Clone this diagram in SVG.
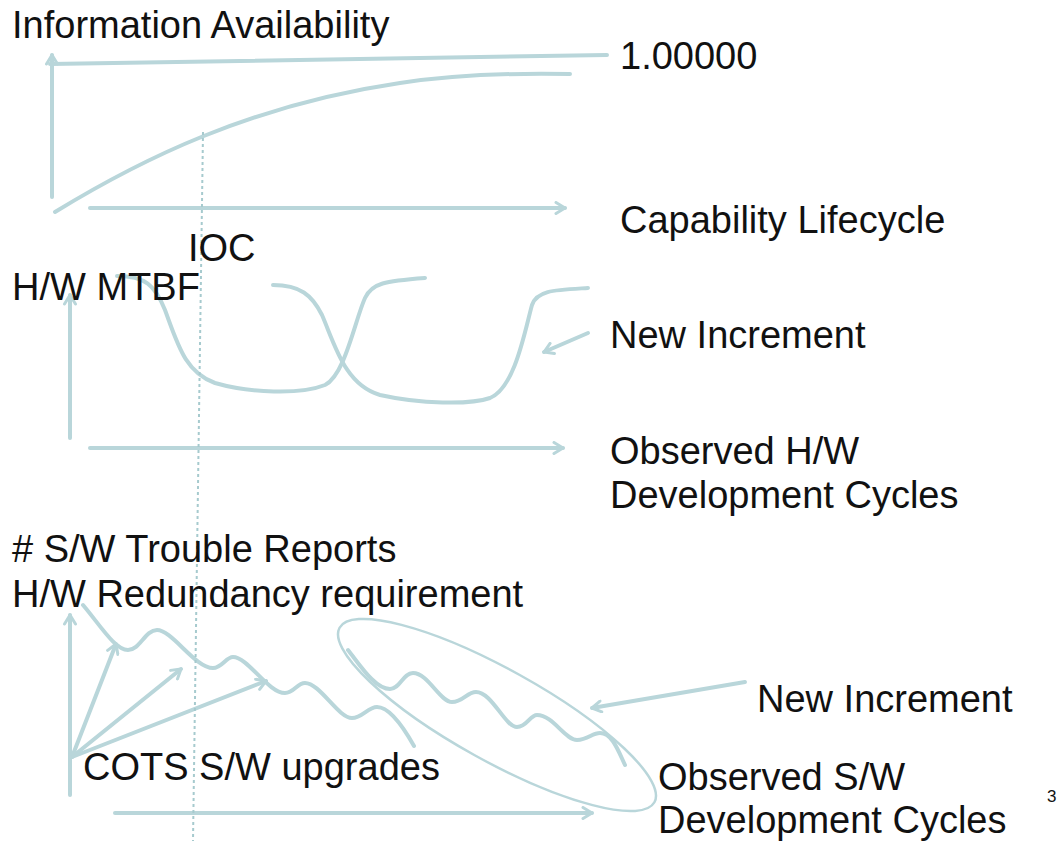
<svg xmlns="http://www.w3.org/2000/svg" width="1060" height="841" viewBox="0 0 1060 841">
<style>
.t{font-family:"Liberation Sans",Arial,sans-serif;font-size:38px;fill:#111}
.ln{fill:none;stroke:#b9d6da;stroke-width:4;stroke-linecap:round;stroke-linejoin:round}
.ax{fill:none;stroke:#b9d6da;stroke-width:4;stroke-linecap:round;marker-end:url(#v)}
.thin{fill:none;stroke:#b9d6da;stroke-width:2.5}
.dash{fill:none;stroke:#a6cace;stroke-width:2;stroke-dasharray:3 3}
</style>
<defs>
<marker id="v" viewBox="0 0 14 14" refX="11" refY="7" markerWidth="14" markerHeight="14" orient="auto" markerUnits="userSpaceOnUse">
<path d="M2,1.5 L11,7 L2,12.5" fill="none" stroke="#b9d6da" stroke-width="3" stroke-linecap="round" stroke-linejoin="round"/>
</marker>
</defs>
<rect width="1060" height="841" fill="#fff"/>

<g id="connectors">
<!-- top graph -->
<path class="ax" d="M52,197 L52,55"/>
<path class="ln" d="M50,64 L607,55"/>
<path class="ln" d="M55,212 C140,160 250,105 400,83 C460,74 520,73 570,74"/>
<path class="ax" d="M90,208 L565,208"/>
<!-- middle graph -->
<path class="ax" d="M70,438 L70,295"/>
<path class="ax" d="M90,448 L563,448"/>
<path class="ln" d="M117,276 C145,276 155,285 165,310 C178,345 185,372 215,383 C250,393 300,395 325,385 C345,375 355,320 365,298 C372,283 385,281 425,278"/>
<path class="ln" d="M273,285 C300,285 312,295 322,315 C335,345 345,385 380,395 C420,404 470,405 490,398 C515,388 525,330 532,305 C537,290 555,290 588,288"/>
<path class="ax" d="M588,333 L544,352"/>
<!-- bottom graph -->
<path class="ax" d="M70,795 L70,615"/>
<path class="ax" d="M115,813 L592,813"/>
<path class="ax" d="M72,757 L116,644"/>
<path class="ax" d="M72,757 L181,669"/>
<path class="ax" d="M72,757 L266,681"/>
<path class="ln" d="M83,605 C100,625 115,650 128,650 C140,650 145,630 157,630 C172,630 195,668 213,668 C222,668 226,657 233,657 C248,657 268,693 285,693 C294,693 297,683 305,683 C320,683 338,718 352,718 C362,718 368,707 377,707 C390,707 405,730 414,746"/>
<path class="ln" d="M348,650 C360,665 375,689 390,689 C400,689 403,673 413,673 C428,673 440,702 452,702 C463,702 467,692 476,692 C492,692 505,727 517,727 C527,727 530,715 537,715 C553,715 565,740 577,740 C588,740 592,733 600,733 C612,733 618,750 625,765"/>
<ellipse class="thin" cx="497" cy="715" rx="180" ry="46" transform="rotate(29 497 715)"/>
<path class="ax" d="M745,682 L592,708"/>
<!-- IOC marker line -->
<path class="dash" d="M203,132 L193,841"/>
</g>

<g id="label-info"><text class="t" x="12" y="38">Information Availability</text></g>
<g id="label-one"><text class="t" x="620" y="69">1.00000</text></g>
<g id="label-capability"><text class="t" x="620" y="233">Capability Lifecycle</text></g>
<g id="label-ioc"><text class="t" x="188" y="261">IOC</text></g>
<g id="label-mtbf"><text class="t" x="12" y="300">H/W MTBF</text></g>
<g id="label-newinc1"><text class="t" x="610" y="348">New Increment</text></g>
<g id="label-obs-hw"><text class="t" x="610" y="464">Observed H/W</text><text class="t" x="610" y="508">Development Cycles</text></g>
<g id="label-trouble"><text class="t" x="12" y="562">#  S/W Trouble Reports</text></g>
<g id="label-redundancy"><text class="t" x="12" y="607">H/W Redundancy requirement</text></g>
<g id="label-newinc2"><text class="t" x="757" y="712">New Increment</text></g>
<g id="label-cots"><text class="t" x="83" y="780">COTS S/W upgrades</text></g>
<g id="label-obs-sw"><text class="t" x="658" y="790">Observed S/W</text><text class="t" x="658" y="833">Development Cycles</text></g>
<g id="label-page"><text class="t" x="1047" y="802" style="font-size:17px">3</text></g>
</svg>
